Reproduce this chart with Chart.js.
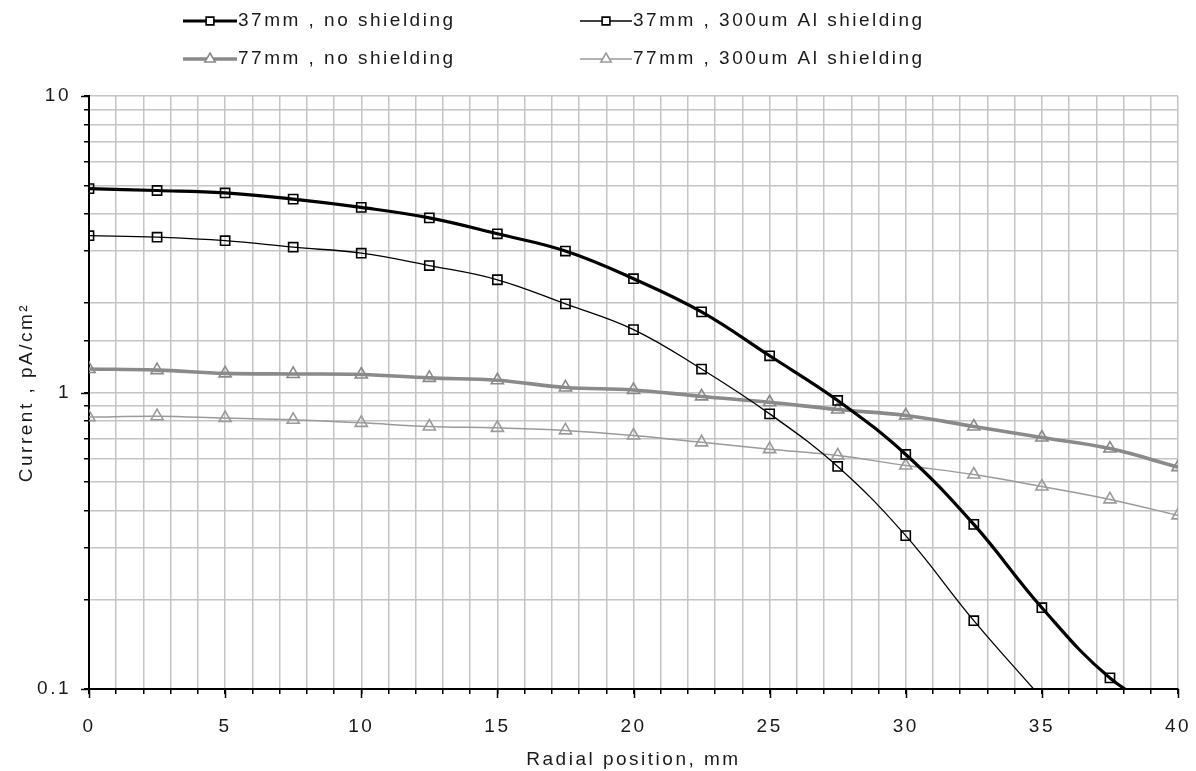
<!DOCTYPE html>
<html>
<head>
<meta charset="utf-8">
<script src="https://cdn.jsdelivr.net/npm/chart.js@4/dist/chart.umd.min.js"></script>
<style>
html,body{margin:0;padding:0;background:#fff;}
#c{display:block;}
</style>
</head>
<body>
<canvas id="c" width="1196" height="771"></canvas>
<script>
// ---- data ----
const positions = [0, 2.5, 5, 7.5, 10, 12.5, 15, 17.5, 20, 22.5, 25, 27.5, 30, 32.5, 35, 37.5, 40];
const labels = ["37mm , no shielding", "37mm , 300um Al shielding", "77mm , no shielding", "77mm , 300um Al shielding"];
const s37NoShield = [4.87, 4.80, 4.71, 4.49, 4.21, 3.88, 3.43, 3.00, 2.42, 1.87, 1.33, 0.94, 0.618, 0.359, 0.188, 0.109, 0.078];
const s37AlShield = [3.38, 3.34, 3.25, 3.09, 2.95, 2.68, 2.40, 1.99, 1.63, 1.20, 0.847, 0.563, 0.329, 0.170, 0.093, null, null];
const s77NoShield = [1.20, 1.19, 1.16, 1.155, 1.15, 1.12, 1.10, 1.04, 1.02, 0.97, 0.927, 0.876, 0.837, 0.768, 0.705, 0.647, 0.56];
const s77AlShield = [0.826, 0.832, 0.82, 0.809, 0.79, 0.768, 0.76, 0.745, 0.716, 0.679, 0.644, 0.613, 0.567, 0.529, 0.482, 0.436, 0.385];
const yLabelValues = [0.1, 1, 10];
const xLabelStep = 5;
const xTitle = "Radial position, mm";
const yTitle = "Current , pA/cm\u00B2";

const FONT_FAMILY = '"Liberation Sans", Arial, sans-serif';
const FONT_SIZE = 19;
const SPACING = '2.5px';

function pts(arr) {
  return positions.map((x, i) => ({x: x, y: arr[i]})).filter(p => p.y !== null);
}

const styles = [
  {color: '#000000', width: 3.2, style: 'rect', r: 6.5},
  {color: '#000000', width: 1.3, style: 'rect', r: 6.5},
  {color: '#8a8a8a', width: 3.6, style: 'triangle', r: 7},
  {color: '#9a9a9a', width: 1.5, style: 'triangle', r: 7}
];
const series = [s37NoShield, s37AlShield, s77NoShield, s77AlShield];

const datasets = series.map((s, i) => ({
  label: labels[i],
  data: pts(s),
  borderColor: styles[i].color,
  borderWidth: styles[i].width,
  pointStyle: styles[i].style,
  pointRadius: styles[i].r,
  pointBorderColor: styles[i].color,
  pointBorderWidth: 1.6,
  pointBackgroundColor: 'rgba(255,255,255,0)',
  tension: 0.4,
  fill: false
}));

function setSpacing(chart) { chart.ctx.letterSpacing = SPACING; }

const helperPlugin = {
  id: 'helper',
  beforeUpdate(chart) { setSpacing(chart); },
  beforeLayout(chart) { setSpacing(chart); },
  beforeDraw(chart) {
    const ctx = chart.ctx;
    ctx.save();
    ctx.fillStyle = '#ffffff';
    ctx.fillRect(0, 0, chart.width, chart.height);
    ctx.restore();
    setSpacing(chart);
  },
  afterDraw(chart) {
    const ctx = chart.ctx;
    const area = chart.chartArea;
    // longer major tick marks
    ctx.save();
    ctx.strokeStyle = '#000';
    ctx.lineWidth = 1.5;
    const xs = chart.scales.x, ys = chart.scales.y;
    for (let v = 0; v <= 40; v += xLabelStep) {
      const px = Math.round(xs.getPixelForValue(v)) + 0.5;
      ctx.beginPath(); ctx.moveTo(px, area.bottom); ctx.lineTo(px, area.bottom + 9); ctx.stroke();
    }
    yLabelValues.forEach(v => {
      const py = Math.round(ys.getPixelForValue(v)) + 0.5;
      ctx.beginPath(); ctx.moveTo(area.left, py); ctx.lineTo(area.left - 8, py); ctx.stroke();
    });
    ctx.restore();

    // legend (2 x 2)
    const colX = [183, 580];
    const rowY = [21, 59];
    const sampleLen = [54, 52];
    ctx.save();
    ctx.font = FONT_SIZE + 'px ' + FONT_FAMILY;
    ctx.letterSpacing = SPACING;
    ctx.textBaseline = 'middle';
    ctx.textAlign = 'left';
    chart.data.datasets.forEach((ds, i) => {
      const col = i % 2, row = Math.floor(i / 2);
      const x0 = colX[col], y0 = rowY[row], len = sampleLen[col];
      ctx.strokeStyle = ds.borderColor;
      ctx.lineWidth = ds.borderWidth;
      ctx.beginPath(); ctx.moveTo(x0, y0); ctx.lineTo(x0 + len, y0); ctx.stroke();
      ctx.fillStyle = '#ffffff';
      ctx.strokeStyle = ds.pointBorderColor;
      ctx.lineWidth = ds.pointBorderWidth;
      Chart.helpers.drawPoint(ctx, {
        pointStyle: ds.pointStyle, radius: ds.pointRadius - 1, rotation: 0,
        borderWidth: ds.pointBorderWidth
      }, x0 + len / 2, y0);
      ctx.fillStyle = '#1a1a1a';
      ctx.fillText(ds.label, x0 + len + 1, y0);
    });
    ctx.restore();
  }
};

const chart = new Chart(document.getElementById('c'), {
  type: 'line',
  data: {datasets: datasets},
  plugins: [helperPlugin],
  options: {
    responsive: false,
    animation: false,
    devicePixelRatio: 1,
    layout: {padding: {top: 96, right: 18, left: 0, bottom: 0}},
    plugins: {legend: {display: false}, tooltip: {enabled: false}},
    scales: {
      x: {
        type: 'linear', min: 0, max: 40,
        afterFit(scale) { scale.height = 82; scale.paddingLeft = 0; scale.paddingRight = 0; },
        ticks: {
          stepSize: 1, autoSkip: false, maxRotation: 0, minRotation: 0,
          padding: 21, color: '#1a1a1a',
          font: {family: FONT_FAMILY, size: FONT_SIZE},
          callback: v => (Math.abs(v % xLabelStep) < 1e-9 ? String(v) : '')
        },
        grid: {color: '#c4c4c4', lineWidth: 1.5, tickColor: '#000', tickLength: 5, tickWidth: 1.5},
        border: {color: '#000', width: 2},
        title: {display: true, text: xTitle, color: '#1a1a1a', font: {family: FONT_FAMILY, size: FONT_SIZE}, padding: {top: 0, bottom: 0}}
      },
      y: {
        type: 'logarithmic', min: 0.1, max: 10,
        afterFit(scale) { scale.width = 89; scale.paddingTop = 0; scale.paddingBottom = 0; },
        ticks: {
          autoSkip: false, padding: 13, color: '#1a1a1a',
          font: {family: FONT_FAMILY, size: FONT_SIZE},
          callback: v => {
            const l = Math.log10(v);
            return Math.abs(l - Math.round(l)) < 1e-6 ? String(Math.round(v * 10) / 10) : '';
          }
        },
        grid: {color: '#c4c4c4', lineWidth: 1.5, tickColor: '#000', tickLength: 5, tickWidth: 1.5},
        border: {color: '#000', width: 2},
        title: {display: true, text: yTitle, color: '#1a1a1a', font: {family: FONT_FAMILY, size: FONT_SIZE}, padding: {top: 15, bottom: 0}}
      }
    }
  }
});
</script>
</body>
</html>
